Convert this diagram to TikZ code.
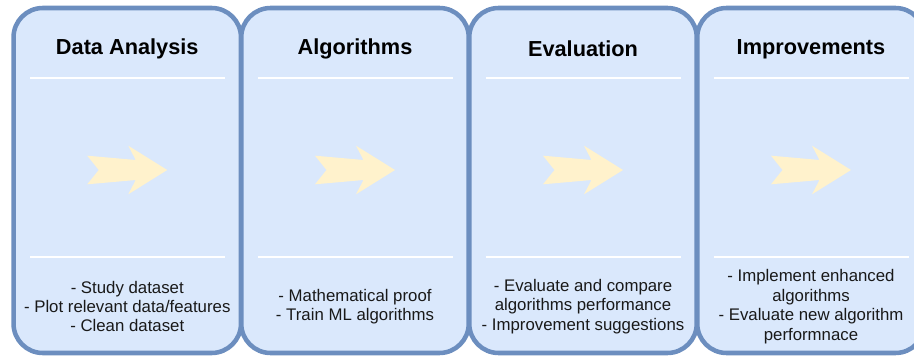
\documentclass[tikz,border=0pt]{standalone}
\usepackage{fontspec}
\setmainfont{Liberation Sans}
\definecolor{laneFill}{HTML}{DAE8FC}
\definecolor{laneLine}{HTML}{6C8EBF}
\definecolor{chevronFill}{HTML}{FFF2CC}
\begin{document}
\begin{tikzpicture}[x=0.75pt,y=-0.75pt,
  lane/.style={draw=laneLine, fill=laneFill, line width=3.4pt,
    rounded corners=22pt, minimum width=170.6pt, minimum height=258.75pt,
    inner sep=0pt, outer sep=0pt},
  heading/.style={font=\fontsize{16.3}{19}\selectfont\bfseries, text=black},
  body/.style={font=\fontsize{12.6}{14.6}\selectfont, align=center, text=black!90},
  divider/.style={draw=white, line width=1.5pt},
  chevron/.style={fill=chevronFill, draw=none}]
\useasboundingbox (0,0) rectangle (914,360);
\clip (0,0) rectangle (914,360);

% the four stage panels, left to right
\foreach \i/\cx in {1/127.25, 2/355, 3/583, 4/811}{
  \node[lane] (lane\i) at (\cx,180.5) {};
  \draw[divider] (\cx-97.5,78) -- (\cx+97.5,78);
  \draw[divider] (\cx-97.5,257) -- (\cx+97.5,257);
  \fill[chevron] (\cx-40,155.7) -- (\cx+8.5,160) -- (\cx+1,145.7) -- (\cx+40,170)
    -- (\cx+1,194.3) -- (\cx+8.5,180) -- (\cx-40,184.3) -- (\cx-28.5,170) -- cycle;
}

% panel headings
\node[heading] (head1) at (127.25,49) {Data Analysis};
\node[heading] (head2) at (355,49) {Algorithms};
\node[heading] (head3) at (583,49) {Evaluation};
\node[heading] (head4) at (811,49) {Improvements};

% panel contents
\node[body] (text1) at (127.25,306.5) {- Study dataset\\- Plot relevant data/features\\- Clean dataset};
\node[body] (text2) at (355,306.5) {- Mathematical proof\\- Train ML algorithms};
\node[body] (text3) at (583,306.5) {- Evaluate and compare\\algorithms performance\\- Improvement suggestions};
\node[body] (text4) at (811,306.5) {- Implement enhanced\\algorithms\\- Evaluate new algorithm\\performnace};
\end{tikzpicture}
\end{document}
